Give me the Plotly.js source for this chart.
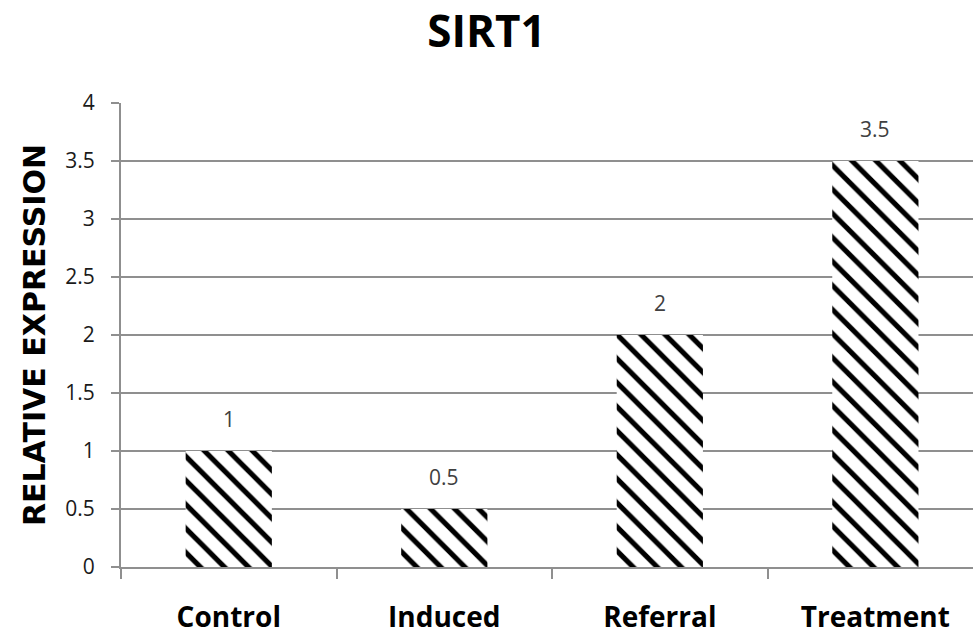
<!DOCTYPE html>
<html>
<head>
<meta charset="utf-8">
<script src="https://cdn.plot.ly/plotly-3.0.1.min.js"></script>
<style>html,body{margin:0;padding:0;background:#fff;}#chart{width:973px;height:634px;}</style>
</head>
<body>
<div id="chart"></div>
<script>
const categories = ["Control", "Induced", "Referral", "Treatment"];
const values = [1, 0.5, 2, 3.5];
const yTicks = [0, 0.5, 1, 1.5, 2, 2.5, 3, 3.5, 4];
const yTickLabels = ["0", "0.5", "1", "1.5", "2", "2.5", "3", "3.5", "4"];

const FONT = "Open Sans, Noto Sans, sans-serif";
const GRID = "#8f8f8f";

const trace = {
  type: "bar",
  x: categories,
  y: values,
  width: 0.4,
  marker: {
    color: "#000000",
    line: {width: 0},
    pattern: {shape: "\\", fgcolor: "#000000", bgcolor: "#ffffff", size: 17, solidity: 0.3}
  },
  hoverinfo: "none"
};

const annotations = categories.map((c, i) => ({
  x: c, y: values[i], xref: "x", yref: "y",
  text: String(values[i]), showarrow: false,
  yanchor: "bottom", yshift: 16,
  font: {family: FONT, size: 21, color: "#404040"}
}));

const layout = {
  width: 973, height: 634,
  margin: {l: 121, r: 0, t: 103, b: 67},
  paper_bgcolor: "#ffffff", plot_bgcolor: "#ffffff",
  showlegend: false,
  title: {
    text: "<b>SIRT1</b>",
    xref: "container", x: 0.5, xanchor: "center",
    yref: "container", y: 1 - 32 / 634, yanchor: "middle",
    font: {family: FONT, size: 44, color: "#000000"}
  },
  xaxis: {
    type: "category",
    range: [-0.5, 3.453],
    showline: true, linecolor: GRID, linewidth: 2,
    ticks: "outside", tickson: "boundaries", ticklen: 10, tickcolor: GRID, tickwidth: 2,
    showgrid: false,
    tickfont: {family: FONT, size: 28, color: "#000000", weight: "bold"},
    ticklabelstandoff: 24
  },
  yaxis: {
    range: [0, 4],
    tickvals: yTicks, ticktext: yTickLabels,
    showline: true, linecolor: GRID, linewidth: 2,
    ticks: "outside", ticklen: 8, tickcolor: GRID, tickwidth: 2,
    showgrid: true, gridcolor: GRID, gridwidth: 2,
    zeroline: false,
    tickfont: {family: FONT, size: 21, color: "#1a1a1a"},
    ticklabelstandoff: 12,
    title: {
      text: "<b>RELATIVE EXPRESSION</b>",
      font: {family: "DejaVu Sans, sans-serif", size: 30, color: "#000000"},
      standoff: 11
    }
  },
  annotations: annotations
};

Plotly.newPlot("chart", [trace], layout, {displayModeBar: false, staticPlot: true});
</script>
</body>
</html>
